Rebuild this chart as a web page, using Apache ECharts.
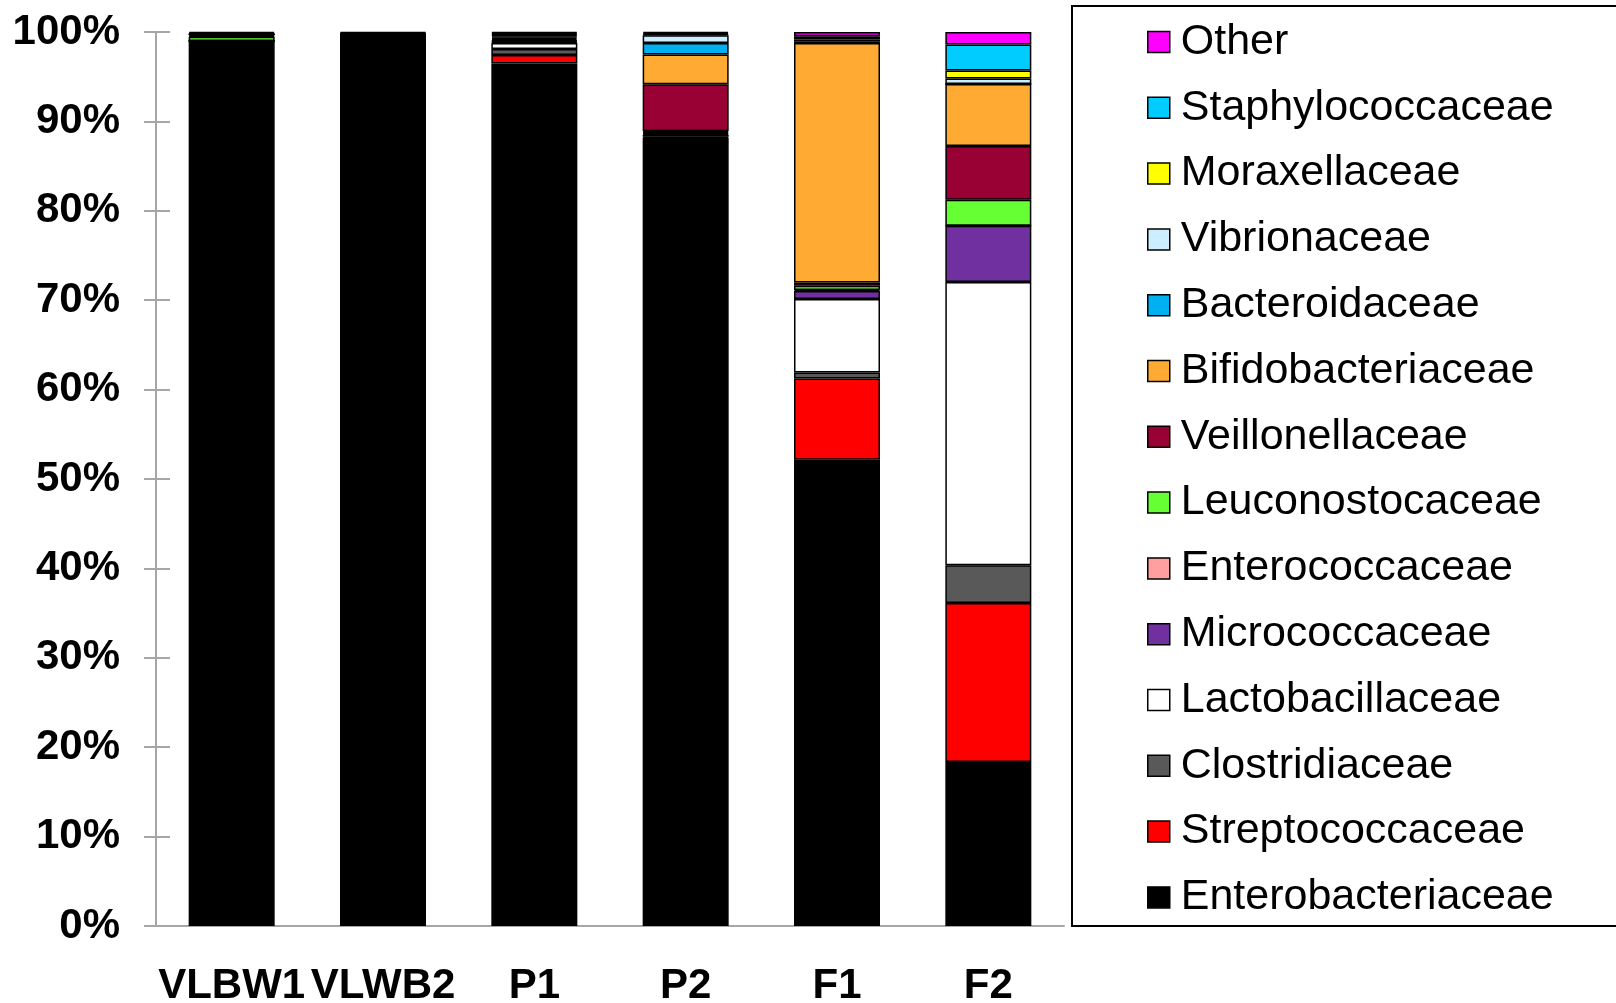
<!DOCTYPE html>
<html>
<head>
<meta charset="utf-8">
<script src="https://cdn.jsdelivr.net/npm/echarts@6/dist/echarts.min.js"></script>
<style>
  html, body { margin: 0; padding: 0; background: #fff; }
  #chart { width: 1616px; height: 1003px; }
</style>
</head>
<body>
<div id="chart"></div>
<script>
const samples = ['VLBW1', 'VLWB2', 'P1', 'P2', 'F1', 'F2'];
const yTicks = [0, 10, 20, 30, 40, 50, 60, 70, 80, 90, 100];

// relative abundance (%) per family, stacked bottom to top
const enterobacteriaceae = [98.9, 99.7, 96.47, 88.17, 52.14, 18.34];
const streptococcaceae   = [0.05, 0.1, 0.96, 0.1, 9.09, 17.8];
const clostridiaceae     = [0.05, 0, 0.67, 0.2, 0.67, 4.2];
const lactobacillaceae   = [0, 0, 0.67, 0.1, 8.23, 31.7];
const micrococcaceae     = [0, 0, 0.1, 0.1, 0.9, 6.3];
const enterococcaceae    = [0, 0, 0.1, 0.1, 0.1, 0];
const leuconostocaceae   = [0.46, 0, 0.1, 0.12, 0.5, 2.9];
const veillonellaceae    = [0.1, 0, 0.15, 5.26, 0.34, 6.0];
const bifidobacteriaceae = [0.1, 0, 0.15, 3.32, 26.8, 6.95];
const bacteroidaceae     = [0.1, 0, 0.15, 1.3, 0.2, 0];
const vibrionaceae       = [0, 0, 0.12, 0.86, 0.18, 0.6];
const moraxellaceae      = [0, 0, 0.12, 0.12, 0.18, 0.9];
const staphylococcaceae  = [0.12, 0.1, 0.12, 0.12, 0.2, 2.9];
const other              = [0.12, 0.1, 0.12, 0.13, 0.47, 1.4];

const families = [
  ['Enterobacteriaceae', enterobacteriaceae, '#000000'],
  ['Streptococcaceae', streptococcaceae, '#ff0000'],
  ['Clostridiaceae', clostridiaceae, '#595959'],
  ['Lactobacillaceae', lactobacillaceae, '#ffffff'],
  ['Micrococcaceae', micrococcaceae, '#7030a0'],
  ['Enterococcaceae', enterococcaceae, '#ff9f9f'],
  ['Leuconostocaceae', leuconostocaceae, '#66ff33'],
  ['Veillonellaceae', veillonellaceae, '#990033'],
  ['Bifidobacteriaceae', bifidobacteriaceae, '#ffaa33'],
  ['Bacteroidaceae', bacteroidaceae, '#00b0f0'],
  ['Vibrionaceae', vibrionaceae, '#cceeff'],
  ['Moraxellaceae', moraxellaceae, '#ffff00'],
  ['Staphylococcaceae', staphylococcaceae, '#00ccff'],
  ['Other', other, '#ff00ff']
];

const font = 'Liberation Sans, Arial, sans-serif';
const axisGray = '#a6a6a6';

const chart = echarts.init(document.getElementById('chart'));

const series = families.map(([name, values, color]) => ({
  name: name,
  type: 'bar',
  stack: 'total',
  barWidth: 86,
  data: values,
  itemStyle: { color: color, borderColor: '#000', borderWidth: 1.5 },
  emphasis: { disabled: true }
}));

chart.setOption({
  animation: false,
  backgroundColor: '#fff',
  grid: { left: 156, right: 552, top: 32, bottom: 77, outerBoundsMode: 'none' },
  legend: {
    orient: 'vertical',
    left: 1142,
    top: 15,
    data: families.map(f => f[0]).reverse(),
    icon: 'rect',
    itemWidth: 22,
    itemHeight: 21,
    itemGap: 21.8,
    itemStyle: { borderColor: '#000', borderWidth: 1.5 },
    textStyle: { fontFamily: font, fontSize: 43, color: '#000', lineHeight: 44, padding: [0, 0, 0, 6] },
    selectedMode: false
  },
  graphic: [{
    type: 'rect',
    shape: { x: 1072, y: 6, width: 600, height: 920 },
    style: { fill: 'none', stroke: '#000', lineWidth: 2 },
    silent: true
  }],
  xAxis: [{
    type: 'category',
    data: samples,
    position: 'bottom',
    axisLine: { lineStyle: { color: axisGray, width: 2 } },
    axisTick: { length: 12, lineStyle: { color: axisGray, width: 2 } },
    axisLabel: { fontFamily: font, fontSize: 42, fontWeight: 'bold', color: '#000', margin: 39, interval: 0 }
  }, {
    type: 'category',
    data: samples,
    position: 'bottom',
    axisLine: { show: false },
    axisTick: { inside: true, length: 14, lineStyle: { color: axisGray, width: 2 } },
    axisLabel: { show: false }
  }],
  yAxis: [{
    type: 'value',
    min: yTicks[0],
    max: yTicks[yTicks.length - 1],
    interval: 10,
    position: 'left',
    splitLine: { show: false },
    axisLine: { show: true, lineStyle: { color: axisGray, width: 2 } },
    axisTick: { show: true, length: 12, lineStyle: { color: axisGray, width: 2 } },
    axisLabel: { fontFamily: font, fontSize: 42, fontWeight: 'bold', color: '#000', margin: 36, padding: [5, 0, 0, 0], formatter: '{value}%' }
  }, {
    type: 'value',
    min: yTicks[0],
    max: yTicks[yTicks.length - 1],
    interval: 10,
    position: 'left',
    splitLine: { show: false },
    axisLine: { show: false },
    axisTick: { show: true, inside: true, length: 14, lineStyle: { color: axisGray, width: 2 } },
    axisLabel: { show: false }
  }],
  series: series
});
</script>
</body>
</html>
